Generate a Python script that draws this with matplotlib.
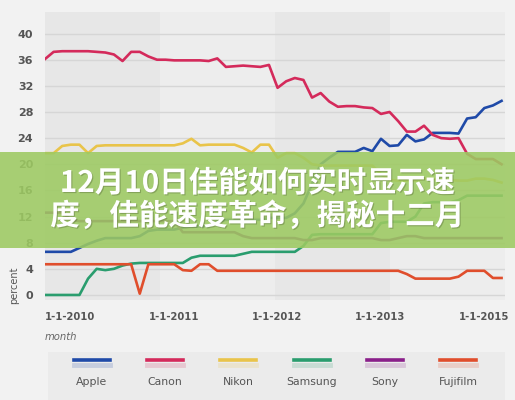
import matplotlib
matplotlib.use("Agg")
import matplotlib.pyplot as plt
import matplotlib.patheffects as pe
from matplotlib.lines import Line2D
from matplotlib.patches import Rectangle

# monthly share (percent), starting January 2010
months = list(range(54))
apple = [6.6, 6.6, 6.6, 6.6, 7.2, 7.8, 8.3, 8.7, 8.7, 8.7, 8.7, 9.0, 9.8, 10.0, 10.0, 10.0,
         10.3, 10.5, 10.5, 10.5, 11.2, 11.5, 11.5, 11.5, 11.5, 11.5, 11.8, 11.8, 11.8, 12.5,
         14.0, 17.0, 20.0, 21.0, 21.9, 21.9, 21.9, 22.5, 22.0, 23.9, 22.8, 22.9, 24.5, 23.5,
         23.8, 24.8, 24.8, 24.8, 24.7, 27.0, 27.2, 28.6, 29.0, 29.7]
canon = [36.1, 37.2, 37.3, 37.3, 37.3, 37.3, 37.2, 37.1, 36.8, 35.8, 37.2, 37.2, 36.5, 36.0,
         36.0, 35.9, 35.9, 35.9, 35.9, 35.8, 36.2, 34.9, 35.0, 35.1, 35.0, 34.9, 35.2, 31.7,
         32.7, 33.2, 32.9, 30.2, 30.9, 29.6, 28.8, 28.9, 28.9, 28.7, 28.6, 27.7, 28.0, 26.6,
         25.0, 25.0, 25.9, 24.5, 24.0, 23.9, 24.0, 21.6, 20.8, 20.8, 20.8, 20.0]
nikon = [21.7, 21.7, 22.8, 23.0, 23.0, 21.7, 22.8, 22.9, 22.9, 22.9, 22.9, 22.9, 22.9, 22.9,
         22.9, 22.9, 23.2, 23.9, 22.9, 23.0, 23.0, 23.0, 23.0, 22.5, 21.8, 23.0, 23.0, 21.0,
         21.7, 21.7, 21.0, 20.0, 19.8, 19.8, 19.8, 19.8, 19.8, 19.8, 19.8, 18.5, 17.6, 17.5,
         17.5, 17.5, 17.8, 17.8, 17.6, 17.6, 17.5, 17.5, 17.8, 17.8, 17.6, 17.2]
samsung = [0.0, 0.0, 0.0, 0.0, 0.0, 2.5, 4.0, 3.8, 4.0, 4.5, 4.8, 4.9, 4.9, 4.9, 4.9, 4.9,
           4.9, 5.7, 6.0, 6.0, 6.0, 6.0, 6.0, 6.3, 6.6, 6.6, 6.6, 6.6, 6.6, 6.6, 7.5, 9.2,
           9.3, 9.3, 9.3, 9.3, 9.3, 9.3, 9.3, 11.0, 11.2, 11.2, 11.2, 12.0, 14.0, 14.2, 14.2,
           14.2, 14.5, 15.2, 15.2, 15.2, 15.2, 15.2]
sony = [12.6, 12.6, 12.6, 11.5, 11.3, 11.3, 11.3, 11.3, 11.3, 11.3, 11.3, 11.3, 11.3, 11.3,
        11.3, 11.3, 9.6, 9.6, 9.6, 9.6, 9.6, 9.6, 9.6, 9.0, 8.7, 8.7, 8.7, 8.7, 8.7, 8.7,
        8.4, 8.4, 8.7, 8.7, 8.7, 8.7, 8.7, 8.7, 8.7, 8.4, 8.4, 8.7, 9.0, 9.0, 8.7, 8.7, 8.7,
        8.7, 8.7, 8.7, 8.7, 8.7, 8.7, 8.7]
fujifilm = [4.7, 4.7, 4.7, 4.7, 4.7, 4.7, 4.7, 4.7, 4.7, 4.7, 4.7, 0.2, 4.7, 4.7, 4.7, 4.7,
            3.8, 3.7, 4.7, 4.7, 3.7, 3.7, 3.7, 3.7, 3.7, 3.7, 3.7, 3.7, 3.7, 3.7, 3.7, 3.7,
            3.7, 3.7, 3.7, 3.7, 3.7, 3.7, 3.7, 3.7, 3.7, 3.7, 3.2, 2.5, 2.5, 2.5, 2.5, 2.5,
            2.8, 3.7, 3.7, 3.7, 2.6, 2.6]

brands = ["Apple", "Canon", "Nikon", "Samsung", "Sony", "Fujifilm"]
colors = ["#1f4aa8", "#d42a5b", "#e9c44a", "#2a9d6e", "#8a1f8a", "#e04e2c"]
series = [apple, canon, nikon, samsung, sony, fujifilm]

yticks = list(range(0, 41, 4))
xtick_pos = [0, 12, 24, 36, 48]
xtick_labels = ["1-1-2010", "1-1-2011", "1-1-2012", "1-1-2013", "1-1-2015"]

title_lines = ["12月10日佳能如何实时显示速", "度，佳能速度革命，揭秘十二月"]

W, H = 515, 400
fig = plt.figure(figsize=(W / 100, H / 100), dpi=100, facecolor="#f2f2f2")


def fx(px):
    return px / W


def fy(py):
    return 1 - py / H


ax = fig.add_axes([fx(45), fy(300), fx(505) - fx(45), fy(12) - fy(300)])
ax.set_facecolor("#ececec")
# alternating vertical bands in the panel
for i in range(4):
    ax.add_patch(Rectangle((i * 0.25, 0), 0.25, 1, transform=ax.transAxes,
                           facecolor="#e7e7e7" if i % 2 == 0 else "#ededed",
                           edgecolor="none", zorder=0))

ax.set_xlim(0, 53.4)
ax.set_ylim(-0.77, 43.3)
ax.set_yticks(yticks)
ax.set_xticks(xtick_pos)
ax.set_xticklabels(xtick_labels, ha="left")
ax.grid(axis="y", color="#d6d6d6", linewidth=1.0, zorder=1)
ax.grid(axis="x", visible=False)
for s in ax.spines.values():
    s.set_visible(False)
ax.tick_params(axis="both", length=0, colors="#555555")
ax.tick_params(axis="y", pad=8.5, labelsize=8)
ax.tick_params(axis="x", pad=9, labelsize=7.2)
for lab in ax.get_xticklabels() + ax.get_yticklabels():
    lab.set_fontweight("bold")

for vals, c in zip(series, colors):
    ax.plot(months, vals, color=c, linewidth=1.9, solid_joinstyle="round", zorder=3)

fig.text(fx(45), fy(337), "month", fontsize=7.2, style="italic", color="#666666",
         ha="left", va="center")
fig.text(fx(14), fy(285), "percent", fontsize=7, color="#555555", rotation=90,
         ha="center", va="center")

# legend strip
fig.add_artist(Rectangle((fx(48), 0), fx(505) - fx(48), fy(352), transform=fig.transFigure,
                         facecolor="#ebebeb", edgecolor="none", zorder=0))
centers = [92, 165, 238, 312, 385, 458]
for name, c, cx in zip(brands, colors, centers):
    fig.add_artist(Line2D([fx(cx - 18), fx(cx + 18)], [fy(360), fy(360)],
                          color=c, linewidth=2.6, transform=fig.transFigure))
    fig.add_artist(Line2D([fx(cx - 18), fx(cx + 18)], [fy(364.5), fy(364.5)],
                          color=c, alpha=0.18, linewidth=3.5, transform=fig.transFigure))
    fig.text(fx(cx), fy(382), name, fontsize=7.8, color="#555555",
             ha="center", va="center")

# headline banner
fig.add_artist(Rectangle((0, fy(248)), 1, fy(152) - fy(248), transform=fig.transFigure,
                         facecolor="#9dca62", alpha=0.88, edgecolor="none", zorder=5))
for line, yp in zip(title_lines, [183, 216]):
    fig.text(0.5, fy(yp), line, fontsize=21.3, fontweight="bold", color="white",
             family=["Noto Sans CJK SC", "DejaVu Sans"], ha="center", va="center",
             zorder=6,
             path_effects=[pe.withSimplePatchShadow(offset=(0.8, -0.8),
                                                    shadow_rgbFace="#4a5a30",
                                                    alpha=0.35)])

fig.savefig("out.png", dpi=100, facecolor=fig.get_facecolor())
